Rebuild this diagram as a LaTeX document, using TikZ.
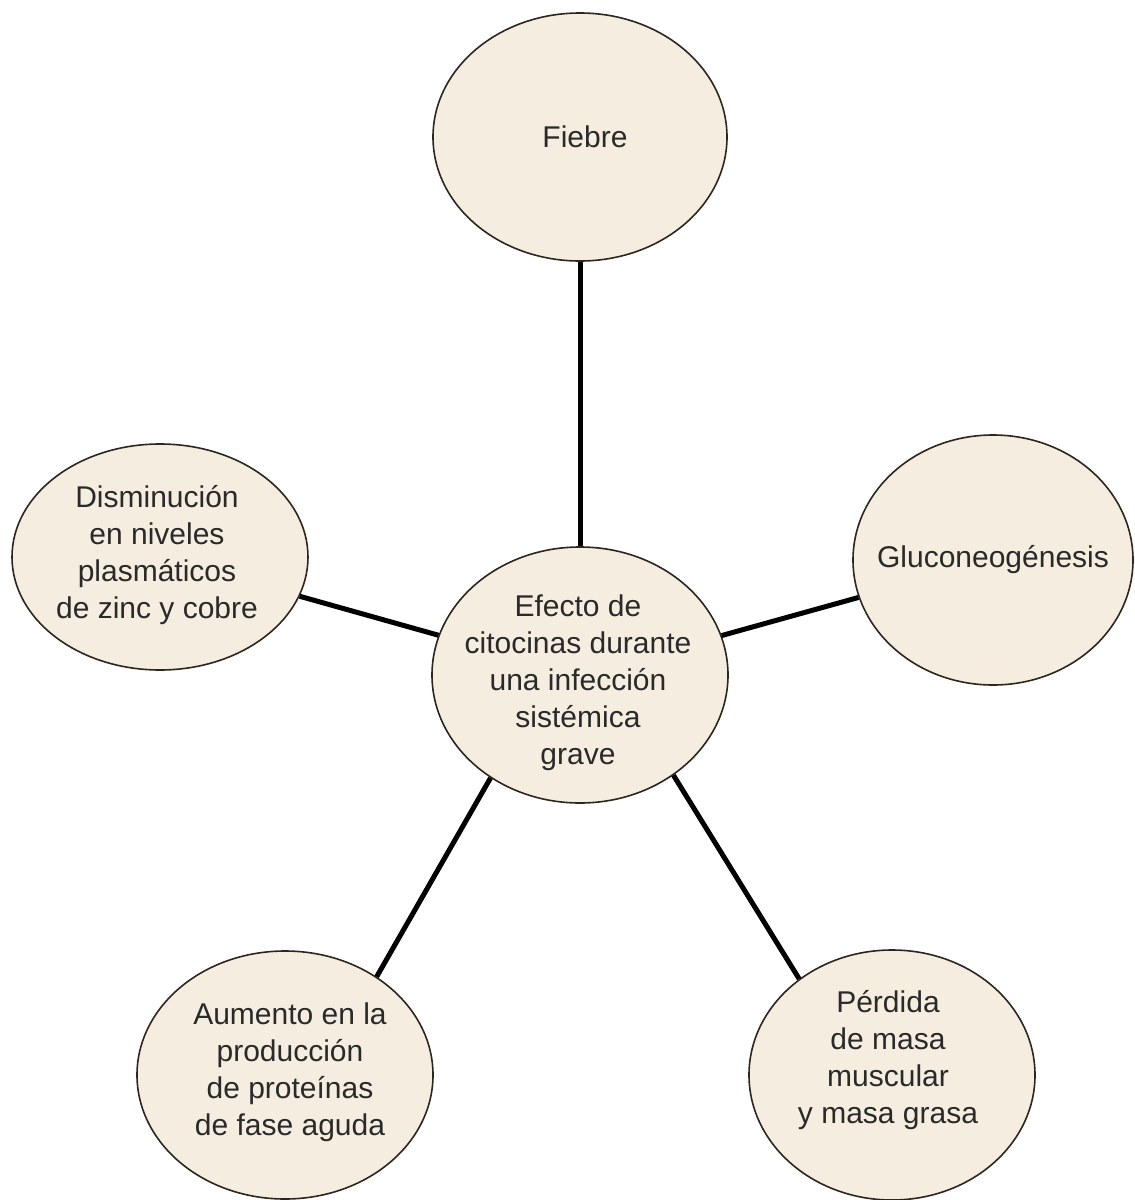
\documentclass[tikz,border=0pt]{standalone}
\usepackage{fontspec}
\setmainfont{Liberation Sans}
\usetikzlibrary{shapes.geometric}
\definecolor{beige}{RGB}{245,237,223}
\definecolor{rim}{RGB}{45,38,30}
\definecolor{inkgrey}{RGB}{42,42,42}

\begin{document}
\begin{tikzpicture}[x=1pt, y=-1pt,
    bubble/.style={ellipse, draw=rim, line width=1.6pt, fill=beige, inner sep=0pt},
    lbl/.style={align=center, text=inkgrey, font=\fontsize{30}{37}\selectfont, inner sep=0pt},
    spoke/.style={draw=black, line width=5pt}
  ]
  \useasboundingbox (0,0) rectangle (1135,1200);
  % bubbles
  \node[bubble, minimum width=296pt, minimum height=256pt] (eff) at (580,675) {};
  \node[bubble, minimum width=294pt, minimum height=248pt] (fie) at (580,137) {};
  \node[bubble, minimum width=280pt, minimum height=250pt] (glu) at (993,560) {};
  \node[bubble, minimum width=296pt, minimum height=226pt] (dis) at (160,557) {};
  \node[bubble, minimum width=296pt, minimum height=248pt] (agu) at (285,1075) {};
  \node[bubble, minimum width=286pt, minimum height=250pt] (per) at (892,1075) {};
  % texts
  \node[lbl] (eff-t) at (578,683) {Efecto de\\citocinas durante\\una infección\\sistémica\\grave};
  \node[lbl] (fie-t) at (585,137) {Fiebre};
  \node[lbl] (glu-t) at (993,560) {Gluconeogénesis};
  \node[lbl] (dis-t) at (157,555) {Disminución\\en niveles\\plasmáticos\\de zinc y cobre};
  \node[lbl] (agu-t) at (290,1072) {Aumento en la\\producción\\de proteínas\\de fase aguda};
  \node[lbl] (per-t) at (888,1060) {Pérdida\\de masa\\muscular\\y masa grasa};
  % spokes
  \draw[spoke] (eff) -- (fie);
  \draw[spoke] (eff) -- (glu);
  \draw[spoke] (eff) -- (dis);
  \draw[spoke] (eff.229) -- (agu.47);
  \draw[spoke] (eff.313) -- (per.134);
\end{tikzpicture}
\end{document}
